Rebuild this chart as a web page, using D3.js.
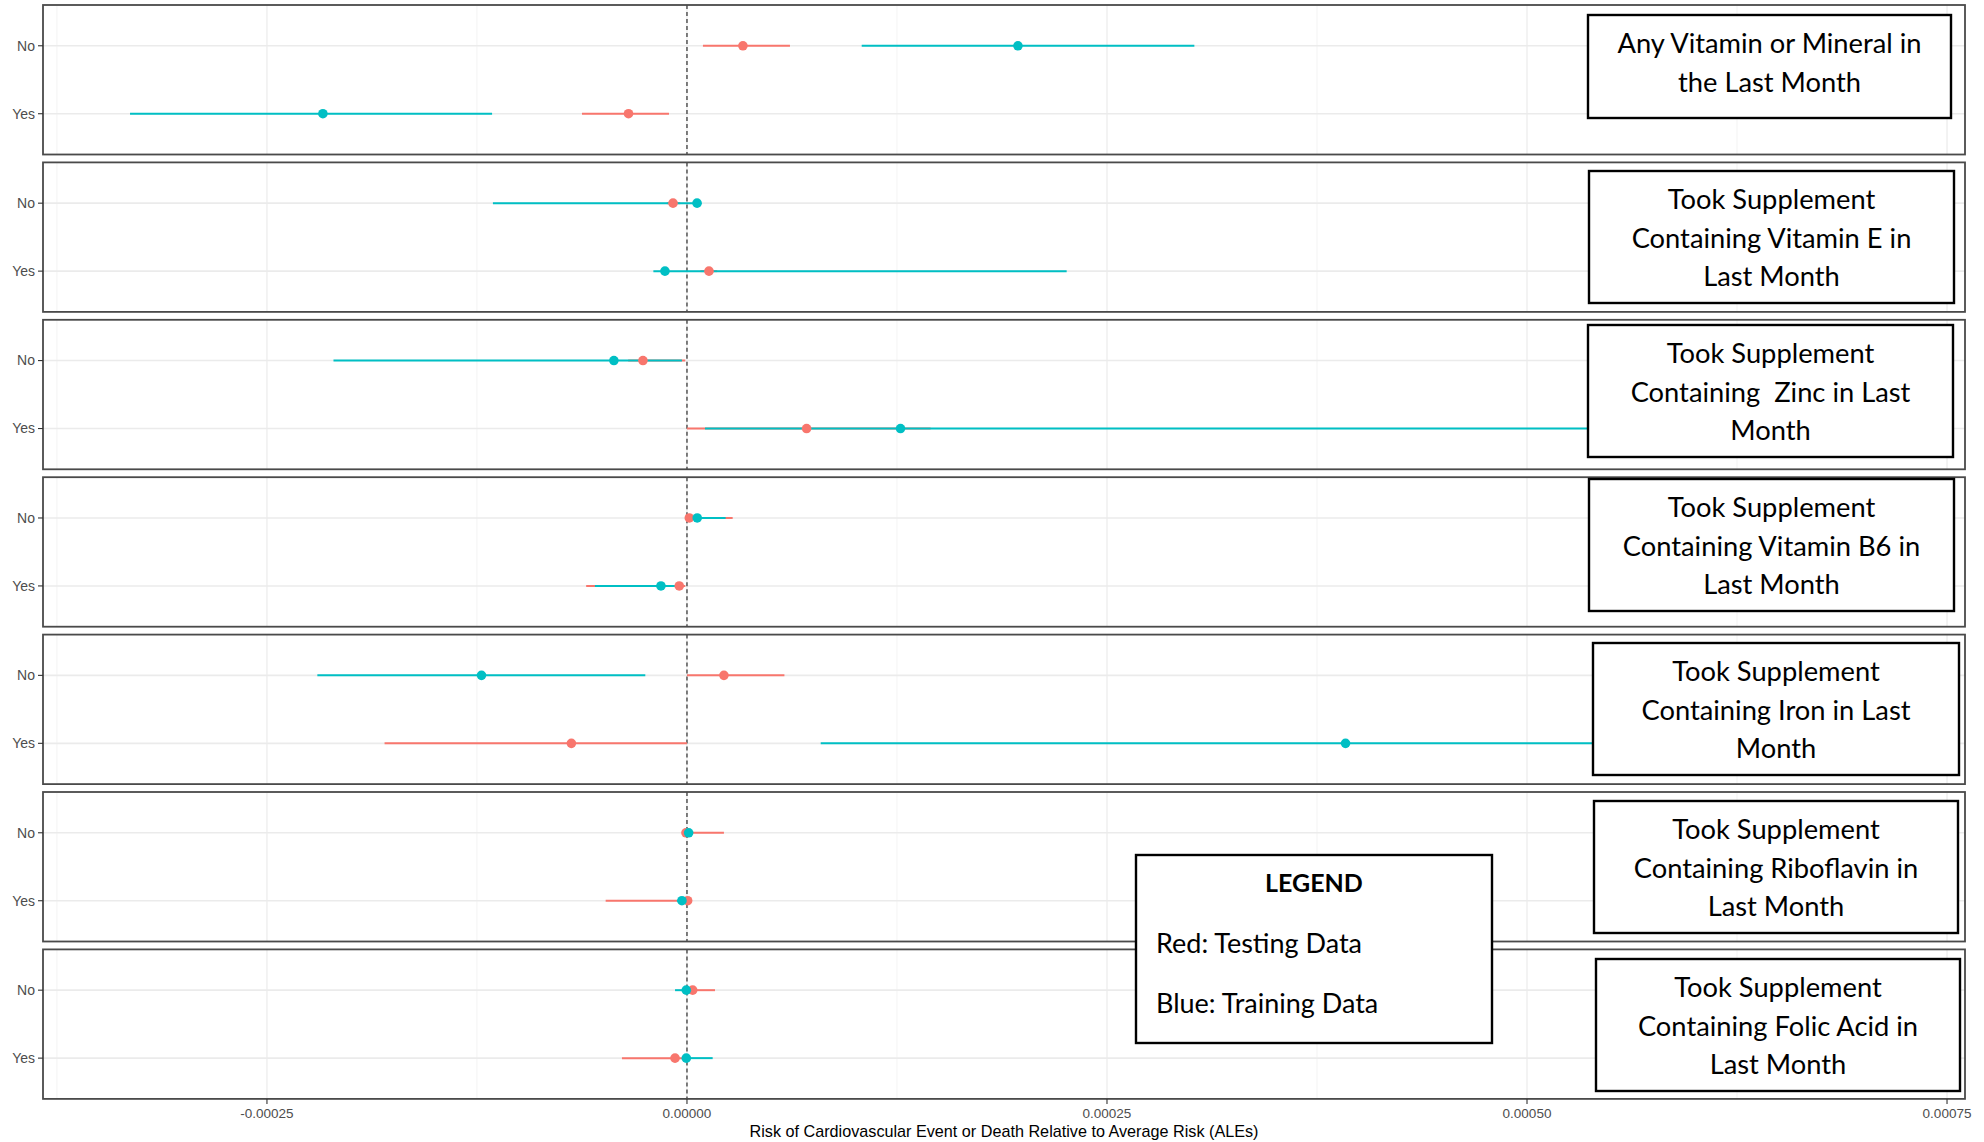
<!DOCTYPE html>
<html>
<head>
<meta charset="utf-8">
<script src="https://cdn.jsdelivr.net/npm/d3@7"></script>
<style>
  html, body { margin: 0; padding: 0; background: #fff; }
  svg { display: block; }
</style>
</head>
<body>
<svg id="chart" width="1984" height="1142"></svg>
<script>
// Supplement facets, one panel each (top to bottom)
const facetTitles = [
  ["Any Vitamin or Mineral in", "the Last Month"],
  ["Took Supplement", "Containing Vitamin E in", "Last Month"],
  ["Took Supplement", "Containing  Zinc in Last", "Month"],
  ["Took Supplement", "Containing Vitamin B6 in", "Last Month"],
  ["Took Supplement", "Containing Iron in Last", "Month"],
  ["Took Supplement", "Containing Riboflavin in", "Last Month"],
  ["Took Supplement", "Containing Folic Acid in", "Last Month"]
];
const levels = ["No", "Yes"];

// Testing data (red): [No, Yes] per facet
const testEst = [[3.33e-5, -3.48e-5], [-8.3e-6, 1.31e-5], [-2.62e-5, 7.12e-5], [1.4e-6, -4.6e-6], [2.2e-5, -6.88e-5], [-0.6e-6, 0.4e-6], [3.4e-6, -7.1e-6]];
const testLo  = [[9.5e-6, -6.25e-5], [-1.2e-5, 8e-6], [-3.5e-5, 0], [0.5e-6, -6.0e-5], [0, -1.8e-4], [-1e-6, -4.84e-5], [1e-6, -3.87e-5]];
const testHi  = [[6.13e-5, -1.07e-5], [-4e-6, 1.8e-5], [-1e-6, 1.45e-4], [2.72e-5, -1e-6], [5.8e-5, 0], [2.2e-5, 1.5e-6], [1.67e-5, -1e-6]];

// Training data (blue): [No, Yes] per facet
const trainEst = [[1.97e-4, -2.167e-4], [6.0e-6, -1.31e-5], [-4.35e-5, 1.271e-4], [6.1e-6, -1.55e-5], [-1.223e-4, 3.92e-4], [1.0e-6, -3e-6], [-0.4e-6, -0.4e-6]];
const trainLo  = [[1.04e-4, -3.315e-4], [-1.155e-4, -2.0e-5], [-2.104e-4, 1.07e-5], [4e-6, -5.48e-5], [-2.2e-4, 7.96e-5], [-0.5e-6, -6e-6], [-7.1e-6, -2e-6]];
const trainHi  = [[3.02e-4, -1.16e-4], [8.5e-6, 2.26e-4], [-3e-6, 7.09e-4], [2.3e-5, -4e-6], [-2.48e-5, 6.2e-4], [3e-6, -0.5e-6], [2e-6, 1.53e-5]];

const xTicks = [-0.00025, 0, 0.00025, 0.0005, 0.00075];
const xMinor = [-0.000375, -0.000125, 0.000125, 0.000375, 0.000625];
const xTitle = "Risk of Cardiovascular Event or Death Relative to Average Risk (ALEs)";
const legendTitle = "LEGEND";
const legendLines = ["Red: Testing Data", "Blue: Training Data"];

const RED = "#F8766D", TEAL = "#00BFC4";

const svg = d3.select("#chart");
svg.append("rect").attr("width", 1984).attr("height", 1142).attr("fill", "#fff");

const panelLeft = 43, panelRight = 1965;
const panelTop0 = 5, panelPitch = 157.4, panelH = 149.5;

const x = d3.scaleLinear()
  .domain([-0.0003833, 0.0007607])
  .range([panelLeft, panelRight]);

const y = d3.scalePoint().domain(levels).range([0, panelH]).padding(0.6);

// facet title boxes: [x0, y0, x1, y1]
const boxes = [
  [1588, 15, 1951, 118],
  [1589, 171, 1954, 303],
  [1588, 325, 1953, 457],
  [1589, 479, 1954, 611],
  [1593, 643, 1959, 775],
  [1594, 801, 1958, 933],
  [1596, 959, 1960, 1091]
];

facetTitles.forEach((title, i) => {
  const top = panelTop0 + i * panelPitch;
  const g = svg.append("g").attr("transform", `translate(0,${top})`);

  // minor grid
  g.selectAll(".minor").data(xMinor).join("line")
    .attr("x1", d => x(d)).attr("x2", d => x(d))
    .attr("y1", 0).attr("y2", panelH)
    .attr("stroke", "#f0f0f0").attr("stroke-width", 0.8);
  // major grid
  g.selectAll(".major").data(xTicks).join("line")
    .attr("x1", d => x(d)).attr("x2", d => x(d))
    .attr("y1", 0).attr("y2", panelH)
    .attr("stroke", "#ebebeb").attr("stroke-width", 1.2);
  g.selectAll(".hgrid").data(levels).join("line")
    .attr("x1", panelLeft).attr("x2", panelRight)
    .attr("y1", d => y(d)).attr("y2", d => y(d))
    .attr("stroke", "#ebebeb").attr("stroke-width", 1.6);

  // reference line at zero
  g.append("line")
    .attr("x1", x(0)).attr("x2", x(0))
    .attr("y1", 0).attr("y2", panelH)
    .attr("stroke", "#555").attr("stroke-width", 1.5)
    .attr("stroke-dasharray", "4,3");

  const rows = levels.map((lv, j) => ({
    lv,
    tE: testEst[i][j], tL: testLo[i][j], tH: testHi[i][j],
    rE: trainEst[i][j], rL: trainLo[i][j], rH: trainHi[i][j]
  }));

  // intervals: testing then training
  g.selectAll(".tline").data(rows).join("line")
    .attr("x1", d => x(d.tL)).attr("x2", d => x(d.tH))
    .attr("y1", d => y(d.lv)).attr("y2", d => y(d.lv))
    .attr("stroke", RED).attr("stroke-width", 2);
  g.selectAll(".rline").data(rows).join("line")
    .attr("x1", d => x(d.rL)).attr("x2", d => x(d.rH))
    .attr("y1", d => y(d.lv)).attr("y2", d => y(d.lv))
    .attr("stroke", TEAL).attr("stroke-width", 2);
  // point estimates
  g.selectAll(".tpt").data(rows).join("circle")
    .attr("cx", d => x(d.tE)).attr("cy", d => y(d.lv)).attr("r", 4.8)
    .attr("fill", RED);
  g.selectAll(".rpt").data(rows).join("circle")
    .attr("cx", d => x(d.rE)).attr("cy", d => y(d.lv)).attr("r", 4.8)
    .attr("fill", TEAL);

  // panel border
  g.append("rect")
    .attr("x", panelLeft).attr("y", 0)
    .attr("width", panelRight - panelLeft).attr("height", panelH)
    .attr("fill", "none").attr("stroke", "#4a4a4a").attr("stroke-width", 1.8);

  // y axis ticks + labels
  g.selectAll(".ytick").data(levels).join("line")
    .attr("x1", panelLeft - 5).attr("x2", panelLeft)
    .attr("y1", d => y(d)).attr("y2", d => y(d))
    .attr("stroke", "#333").attr("stroke-width", 1.1);
  g.selectAll(".ylab").data(levels).join("text")
    .attr("x", panelLeft - 8).attr("y", d => y(d))
    .attr("dy", "0.35em")
    .attr("text-anchor", "end")
    .attr("font-family", "'Liberation Sans', Arial, sans-serif")
    .attr("font-size", 14)
    .attr("fill", "#4d4d4d")
    .text(d => d);

  // facet title box
  const b = boxes[i];
  const bg = svg.append("g");
  bg.append("rect")
    .attr("x", b[0]).attr("y", b[1])
    .attr("width", b[2] - b[0]).attr("height", b[3] - b[1])
    .attr("fill", "#fff").attr("stroke", "#000").attr("stroke-width", 2.4);
  const cx = (b[0] + b[2]) / 2;
  bg.selectAll("text").data(title).join("text")
    .attr("x", cx)
    .attr("y", (d, k) => b[1] + 38 + k * 38.5)
    .attr("text-anchor", "middle")
    .attr("font-family", "Lato, 'Open Sans', sans-serif")
    .attr("font-size", 27.3)
    .attr("fill", "#000")
    .attr("xml:space", "preserve")
    .style("white-space", "pre")
    .text(d => d);
});

// bottom x axis
const bottom = panelTop0 + 6 * panelPitch + panelH;
const xAxisG = svg.append("g").attr("transform", `translate(0,${bottom})`);
xAxisG.selectAll("line").data(xTicks).join("line")
  .attr("x1", d => x(d)).attr("x2", d => x(d))
  .attr("y1", 0).attr("y2", 5)
  .attr("stroke", "#333").attr("stroke-width", 1.1);
xAxisG.selectAll("text").data(xTicks).join("text")
  .attr("x", d => x(d)).attr("y", 19)
  .attr("text-anchor", "middle")
  .attr("font-family", "'Liberation Sans', Arial, sans-serif")
  .attr("font-size", 13.5)
  .attr("fill", "#4d4d4d")
  .text(d => d3.format(".5f")(d).replace("−", "-"));
svg.append("text")
  .attr("x", (panelLeft + panelRight) / 2).attr("y", 1137)
  .attr("text-anchor", "middle")
  .attr("font-family", "'Liberation Sans', Arial, sans-serif")
  .attr("font-size", 16.2)
  .attr("fill", "#000")
  .text(xTitle);

// legend box
const lg = svg.append("g");
lg.append("rect")
  .attr("x", 1136).attr("y", 855).attr("width", 356).attr("height", 188)
  .attr("fill", "#fff").attr("stroke", "#000").attr("stroke-width", 2.4);
lg.append("text")
  .attr("x", 1314).attr("y", 892)
  .attr("text-anchor", "middle")
  .attr("font-family", "Lato, 'Open Sans', sans-serif")
  .attr("font-weight", "bold")
  .attr("font-size", 25)
  .text(legendTitle);
lg.selectAll(".ll").data(legendLines).join("text")
  .attr("x", 1156).attr("y", (d, k) => 953 + k * 59.5)
  .attr("font-family", "Lato, 'Open Sans', sans-serif")
  .attr("font-size", 27)
  .text(d => d);
</script>
</body>
</html>
